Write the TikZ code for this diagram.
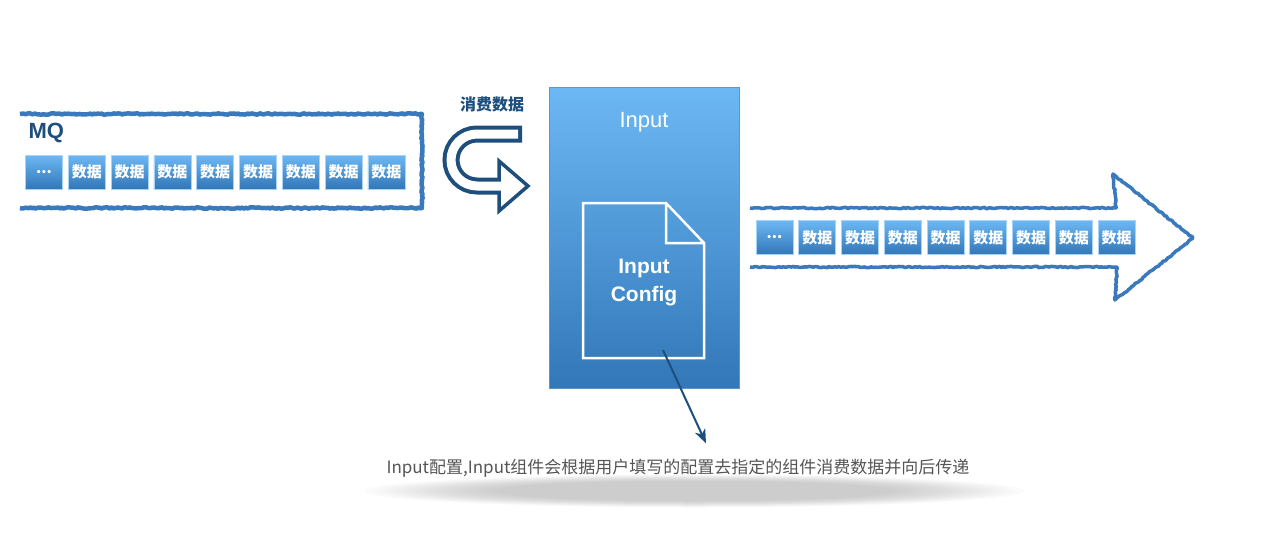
\documentclass[tikz,border=0pt]{standalone}
\usepackage{fontspec}
\setmainfont{Liberation Sans}
\newfontfamily\cjk{Noto Sans CJK SC}
\usetikzlibrary{arrows.meta,positioning,decorations.pathmorphing}
\definecolor{darkblue}{RGB}{30,78,124}
\definecolor{roughblue}{RGB}{58,122,188}
\definecolor{lightblue}{RGB}{108,184,244}
\definecolor{midblue}{RGB}{50,119,184}
\definecolor{notegray}{RGB}{85,85,85}

\tikzset{
  rough/.style={draw=roughblue, line width=3.5pt, line join=round, decorate,
        decoration={random steps, segment length=2pt, amplitude=0.7pt}},
  cell/.style={top color=lightblue, bottom color=midblue, draw=lightblue!60!white,
        line width=0.6pt, minimum width=37pt, minimum height=34pt, inner sep=0pt,
        text=white, font=\cjk\bfseries\fontsize{15}{15}\selectfont},
  pointer/.style={darkblue, line width=2pt, -{Stealth[length=14pt, width=11pt, inset=4pt]}},
}

\begin{document}
\begin{tikzpicture}[x=1pt, y=-1pt]
  \useasboundingbox (0,0) rectangle (1280,550);

  % MQ queue
  \draw[rough, line width=4.5pt] (20,114) -- (422,114) -- (422,208) -- (20,208);
  \node[anchor=west, text=darkblue, font=\bfseries\fontsize{22}{22}\selectfont] (mqlbl) at (25,133) {MQ};
  \node[cell] (mq0) at (44,172) {...};
  \foreach \i in {1,...,8}
    \node[cell] (mq\i) at (44+42.8*\i,172) {数据};

  % consume arrow
  \node[text=darkblue, font=\cjk\bfseries\fontsize{16}{16}\selectfont] (consume) at (492,104) {消费数据};
  \draw[darkblue, line width=17pt, rounded corners=26pt] (522,134) -- (451,134) -- (451,186) -- (500,186);
  \filldraw[fill=white, draw=darkblue, line width=3.5pt, line join=miter] (499,161) -- (528,186) -- (499,211) -- cycle;
  \draw[white, line width=9pt, rounded corners=26pt] (518,134) -- (451,134) -- (451,186) -- (502,186);

  % Input component
  \node[draw=roughblue!80!white, line width=1pt, top color=lightblue, bottom color=midblue,
        minimum width=190pt, minimum height=301pt, inner sep=0pt] (input) at (644.5,237.5) {};
  \node[text=white, font=\fontsize{22}{22}\selectfont] (inputlbl) at (644,122) {Input};
  \draw[white, line width=2.5pt, line join=miter]
    (583,203) -- (666,203) -- (704,243) -- (704,358) -- (583,358) -- cycle
    (666,203) -- (666,243) -- (704,243);
  \node[text=white, align=center, font=\bfseries\fontsize{21}{28}\selectfont] (cfg) at (644,282) {Input\\Config};
  \coordinate (cfgfoot) at (663,350);

  % output stream
  \draw[rough] (750,208) -- (1116,208) -- (1113,174) -- (1193,238) -- (1115,300) -- (1117,267) -- (750,267);
  \node[cell] (out0) at (774.5,237.5) {...};
  \foreach \i in {1,...,8}
    \node[cell] (out\i) at (774.5+42.75*\i,237.5) {数据};

  % note
  \foreach \r in {330,320,...,200}
    \fill[black, opacity=0.014] (694,491) ellipse [x radius=\r pt, y radius=\r*0.05pt];
  \node[text=notegray, font=\cjk\fontsize{17}{17}\selectfont] (note) at (678,468)
    {Input配置,Input组件会根据用户填写的配置去指定的组件消费数据并向后传递};
  \draw[pointer] (cfgfoot) -- ([xshift=28pt, yshift=12pt]note.north);
\end{tikzpicture}
\end{document}
